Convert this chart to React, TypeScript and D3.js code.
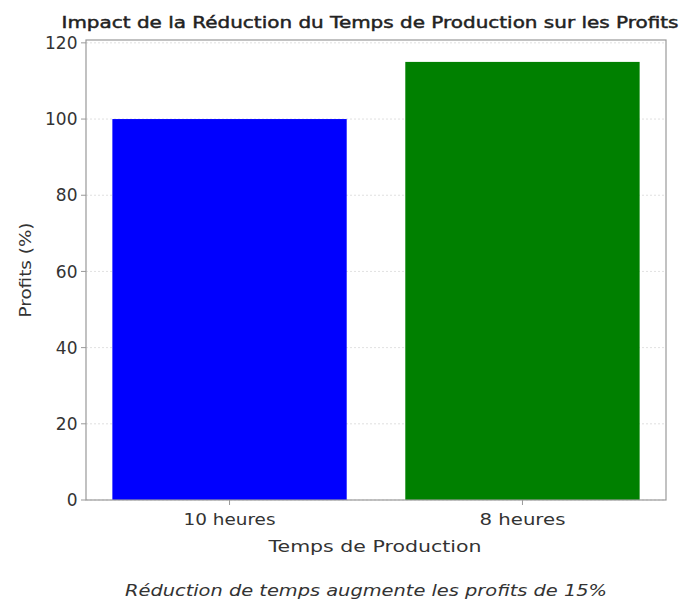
import React from "react";
import * as d3 from "d3";

const categories = ["10 heures", "8 heures"];
const profits = [100, 115];
const barColors = ["#0000ff", "#008000"];
const yTicks = [0, 20, 40, 60, 80, 100, 120];
const titleText = "Impact de la Réduction du Temps de Production sur les Profits";
const xLabelText = "Temps de Production";
const yLabelText = "Profits (%)";
const noteText = "Réduction de temps augmente les profits de 15%";

const W = 691;
const H = 599;
const m = { left: 86, right: 666, top: 40, bottom: 500 };
const FONT = "'DejaVu Sans', 'Open Sans', sans-serif";
const xTickWidths = [92, 86];

export default function App() {
  const x = d3
    .scaleBand<string>()
    .domain(categories)
    .range([m.left, m.right])
    .paddingInner(0.2)
    .paddingOuter(0.09);
  const y = d3.scaleLinear().domain([0, 120.75]).range([m.bottom, m.top]);
  const axisColor = "#999";
  const textColor = "#333";

  return (
    <div style={{ position: "absolute", left: 0, top: 0 }}>
      <svg width={W} height={H} style={{ display: "block", background: "#fff" }}>
        {yTicks.map((t) => (
          <line
            key={"g" + t}
            x1={m.left}
            x2={m.right}
            y1={y(t)}
            y2={y(t)}
            stroke="#d8d8d8"
            strokeWidth={0.8}
            strokeDasharray="2,2"
          />
        ))}
        {categories.map((c, i) => (
          <rect
            key={c}
            x={x(c)}
            y={y(profits[i])}
            width={x.bandwidth()}
            height={y(0) - y(profits[i])}
            fill={barColors[i]}
          />
        ))}
        <rect
          x={m.left}
          y={m.top}
          width={m.right - m.left}
          height={m.bottom - m.top}
          fill="none"
          stroke={axisColor}
          strokeWidth={1.2}
        />
        {yTicks.map((t) => (
          <g key={"y" + t}>
            <line x1={m.left - 5} x2={m.left} y1={y(t)} y2={y(t)} stroke={axisColor} strokeWidth={1} />
            <text
              x={m.left - 8.5}
              y={y(t)}
              dy="0.36em"
              textAnchor="end"
              fontFamily={FONT}
              fontSize={17}
              fill={textColor}
            >
              {t}
            </text>
          </g>
        ))}
        {categories.map((c, i) => {
          const cx = (x(c) as number) + x.bandwidth() / 2;
          return (
            <g key={"x" + c}>
              <line x1={cx} x2={cx} y1={m.bottom} y2={m.bottom + 5} stroke={axisColor} strokeWidth={1} />
              <text
                x={cx}
                y={525}
                textAnchor="middle"
                fontFamily={FONT}
                fontSize={16.5}
                fill={textColor}
                textLength={xTickWidths[i]}
                lengthAdjust="spacingAndGlyphs"
              >
                {c}
              </text>
            </g>
          );
        })}
        <text
          x={370}
          y={28}
          textAnchor="middle"
          fontFamily={FONT}
          fontSize={16}
          fill="#222"
          stroke="#222"
          strokeWidth={0.45}
          textLength={617}
          lengthAdjust="spacingAndGlyphs"
        >
          {titleText}
        </text>
        <text
          x={(m.left + m.right) / 2 - 1}
          y={552}
          textAnchor="middle"
          fontFamily={FONT}
          fontSize={16.5}
          fill={textColor}
          textLength={213}
          lengthAdjust="spacingAndGlyphs"
        >
          {xLabelText}
        </text>
        <text
          transform={`translate(30.5, ${(m.top + m.bottom) / 2}) rotate(-90)`}
          textAnchor="middle"
          fontFamily={FONT}
          fontSize={16.5}
          fill={textColor}
          textLength={95}
          lengthAdjust="spacingAndGlyphs"
        >
          {yLabelText}
        </text>
        <text
          x={366}
          y={596}
          textAnchor="middle"
          fontFamily={FONT}
          fontSize={16.5}
          fontStyle="italic"
          fill={textColor}
          textLength={482}
          lengthAdjust="spacingAndGlyphs"
        >
          {noteText}
        </text>
      </svg>
    </div>
  );
}
